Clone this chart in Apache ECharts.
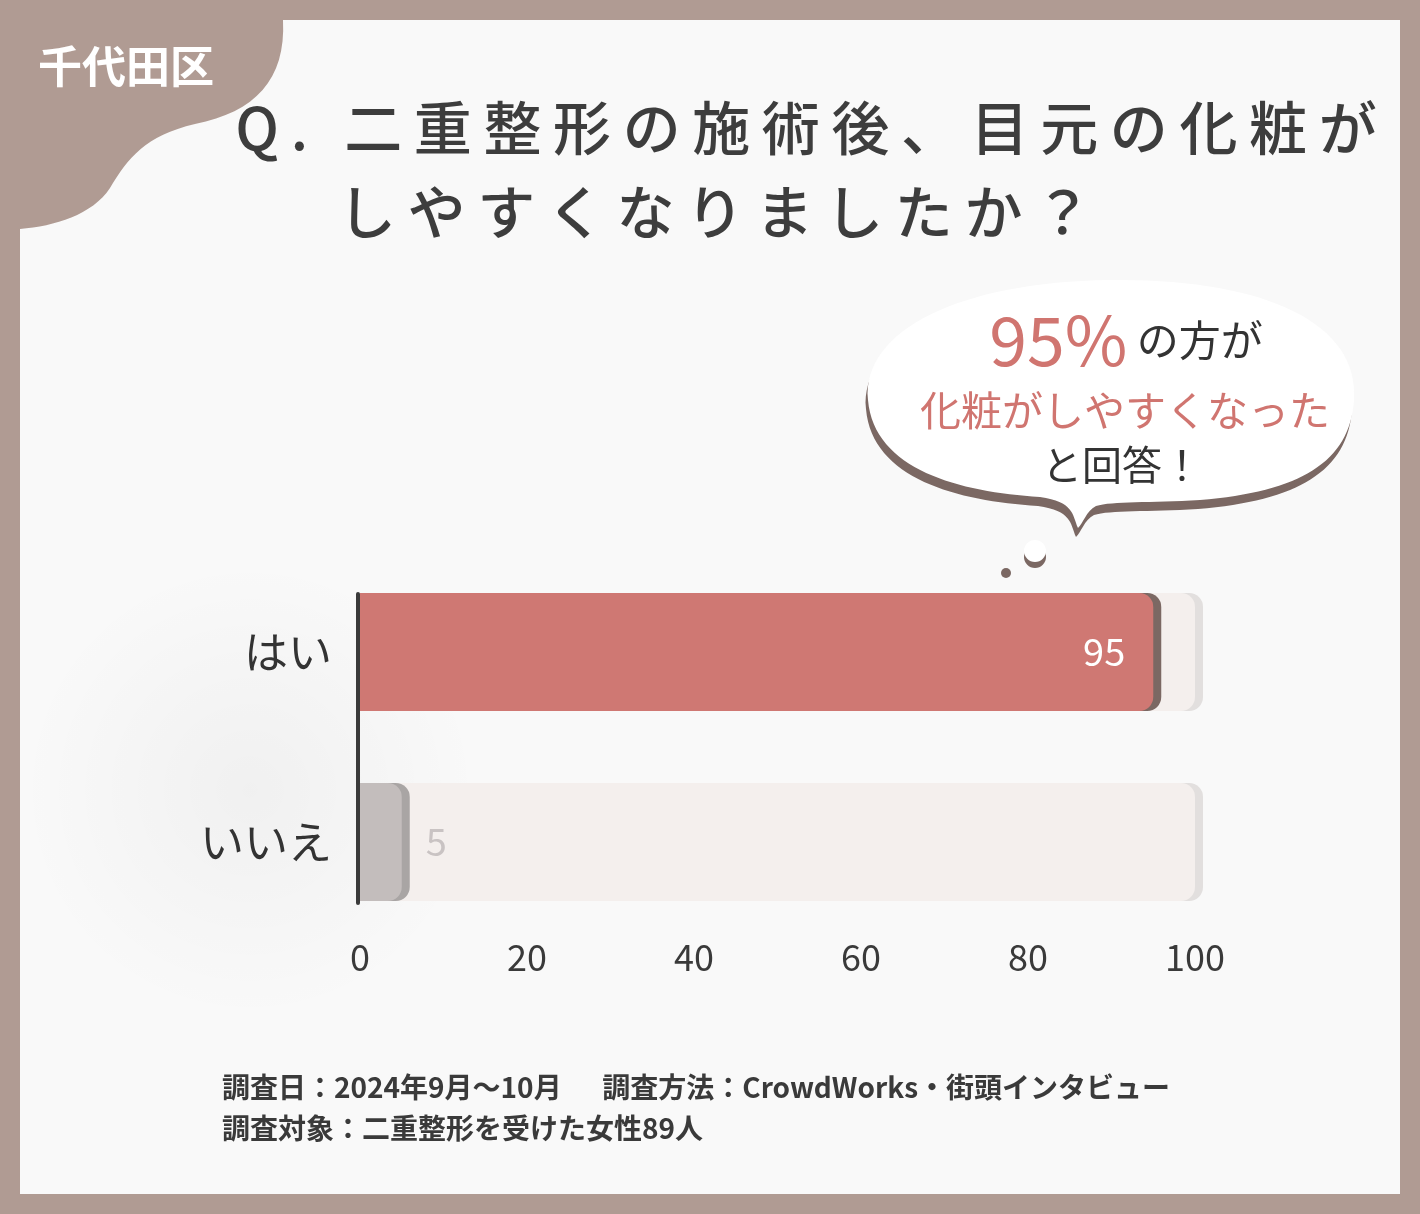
<!DOCTYPE html>
<html><head><meta charset="utf-8">
<script src="https://cdn.jsdelivr.net/npm/echarts@6/dist/echarts.min.js"></script>
<style>html,body{margin:0;padding:0;background:#b09b93;}#c{width:1420px;height:1214px;}</style>
</head><body><div id="c"></div>
<script>
const categories = ['はい', 'いいえ'];
const values = [95, 5];
const totals = [100, 100];
const xTicks = [0, 20, 40, 60, 80, 100];
const badgeText = '千代田区';
const titleLines = ['Q. 二重整形の施術後、目元の化粧が', 'しやすくなりましたか？'];
const bubbleLines = ['95%', 'の方が', '化粧がしやすくなった', 'と回答！'];
const footerLines = ['調査日：2024年9月～10月　  調査方法：CrowdWorks・街頭インタビュー', '調査対象：二重整形を受けた女性89人'];

const FONT = '"Noto Sans CJK JP", "Noto Sans", sans-serif';
const barColors = ['#cf7873', '#c3bdbc'];
const barShadows = ['#7b6863', '#a9a5a4'];
const spaced = s => s.split('').join('\u2009');

const blobPath = 'M20 20 L283 20 C286 80 255 112 195 124 C145 136 128 158 110 188 C92 215 55 226 20 229 Z';
const bubblePath = 'M868 400 C862 330 960 282 1110 280 C1262 278 1360 322 1354 400 C1350 462 1300 492 1200 500 C1150 503 1112 501 1096 506 C1086 511 1083 524 1078 528 C1072 514 1074 502 1040 497 C960 492 874 470 868 400 Z';
echarts.graphic.registerShape('cornerBlob', echarts.graphic.extendPath(blobPath, {}));
echarts.graphic.registerShape('speechBubble', echarts.graphic.extendPath(bubblePath, {}));

const chart = echarts.init(document.getElementById('c'), null, {renderer: 'canvas'});

const mainData = values.map((v, i) => ({
  value: v,
  itemStyle: {color: barColors[i], shadowColor: barShadows[i], shadowOffsetX: 8, shadowBlur: 0.01, borderRadius: [0, 14, 14, 0]},
  label: i === 0
    ? {show: true, position: 'insideRight', distance: 28, color: '#ffffff', fontSize: 38, fontFamily: FONT}
    : {show: true, position: 'right', distance: 24, color: '#c9c3c3', fontSize: 38, fontFamily: FONT}
}));

const radial = a => ({type: 'radial', x: 0.5, y: 0.5, r: 0.5, colorStops: [{offset: 0, color: 'rgba(0,0,0,' + a + ')'}, {offset: 1, color: 'rgba(0,0,0,0)'}]});

const option = {
  backgroundColor: '#b09b93',
  animation: false,
  grid: [
    {left: 360, right: 225, top: 557, height: 380},
    {left: 358, right: 225, top: 594, height: 309}
  ],
  xAxis: [
    {type: 'value', gridIndex: 0, min: xTicks[0], max: xTicks[xTicks.length - 1], interval: xTicks[1] - xTicks[0],
     axisLine: {show: false}, axisTick: {show: false}, splitLine: {show: false},
     axisLabel: {color: '#3a3a3a', fontSize: 36, fontFamily: FONT, margin: 2}},
    {type: 'value', gridIndex: 1, min: 0, max: 100, show: false}
  ],
  yAxis: [
    {type: 'category', gridIndex: 0, data: categories, inverse: true,
     axisLine: {show: false}, axisTick: {show: false},
     axisLabel: {color: '#333333', fontSize: 44, fontFamily: FONT, margin: 28}},
    {type: 'category', gridIndex: 1, data: categories, inverse: true, z: 10,
     axisLine: {show: true, lineStyle: {color: '#3a3a3a', width: 4}}, axisTick: {show: false}, axisLabel: {show: false}}
  ],
  series: [
    {type: 'bar', xAxisIndex: 0, yAxisIndex: 0, data: totals, barWidth: 118, silent: true, z: 1,
     itemStyle: {color: '#f4efed', shadowColor: '#e2dfde', shadowOffsetX: 8, shadowBlur: 0.01, borderRadius: [0, 14, 14, 0]}},
    {type: 'bar', xAxisIndex: 0, yAxisIndex: 0, data: mainData, barWidth: 118, barGap: '-100%', z: 3}
  ],
  graphic: [
    {type: 'rect', z: -20, shape: {x: 20, y: 20, width: 1380, height: 1174}, style: {fill: '#f9f9f9'}},
    {type: 'rect', z: -19, shape: {x: 20, y: 480, width: 460, height: 620}, style: {fill: radial(0.035)}},
    {type: 'cornerBlob', z: -18, shape: {}, style: {fill: '#b09b93'}},
    {type: 'text', z: 50, style: {text: badgeText, x: 126, y: 66, align: 'center', verticalAlign: 'middle', fill: '#ffffff', font: 'bold 44px ' + FONT}},
    {type: 'text', z: 50, style: {text: spaced(titleLines[0]), x: 806, y: 128, align: 'center', verticalAlign: 'middle', fill: '#3d3d3d', font: '500 58px ' + FONT}},
    {type: 'text', z: 50, style: {text: spaced(titleLines[1]), x: 715, y: 212, align: 'center', verticalAlign: 'middle', fill: '#3d3d3d', font: '500 58px ' + FONT}},
    {type: 'speechBubble', z: 40, x: -2, y: 9, shape: {}, style: {fill: '#7b6863'}},
    {type: 'speechBubble', z: 41, shape: {}, style: {fill: '#ffffff'}},
    {type: 'circle', z: 41, shape: {cx: 1006, cy: 573, r: 5}, style: {fill: '#7b6863'}},
    {type: 'circle', z: 41, shape: {cx: 1035, cy: 557, r: 11}, style: {fill: '#7b6863'}},
    {type: 'circle', z: 42, shape: {cx: 1035, cy: 551, r: 11}, style: {fill: '#ffffff'}},
    {type: 'text', z: 50, style: {text: '{a|' + bubbleLines[0] + '}{b| ' + bubbleLines[1] + '}', x: 1126, y: 340, align: 'center', verticalAlign: 'middle',
      rich: {a: {fontSize: 68, fontFamily: FONT, fill: '#d07570'}, b: {fontSize: 42, fontFamily: FONT, fill: '#333333'}}}},
    {type: 'text', z: 50, style: {text: bubbleLines[2], x: 1125, y: 410, align: 'center', verticalAlign: 'middle', fill: '#d07570', font: '41px ' + FONT}},
    {type: 'text', z: 50, style: {text: bubbleLines[3], x: 1122, y: 465, align: 'center', verticalAlign: 'middle', fill: '#333333', font: '40px ' + FONT}},
    {type: 'text', z: 50, style: {text: footerLines[0], x: 222, y: 1087, align: 'left', verticalAlign: 'middle', fill: '#3a3a3a', font: 'bold 28px ' + FONT}},
    {type: 'text', z: 50, style: {text: footerLines[1], x: 222, y: 1128, align: 'left', verticalAlign: 'middle', fill: '#3a3a3a', font: 'bold 28px ' + FONT}}
  ]
};
chart.setOption(option);
</script></body></html>
